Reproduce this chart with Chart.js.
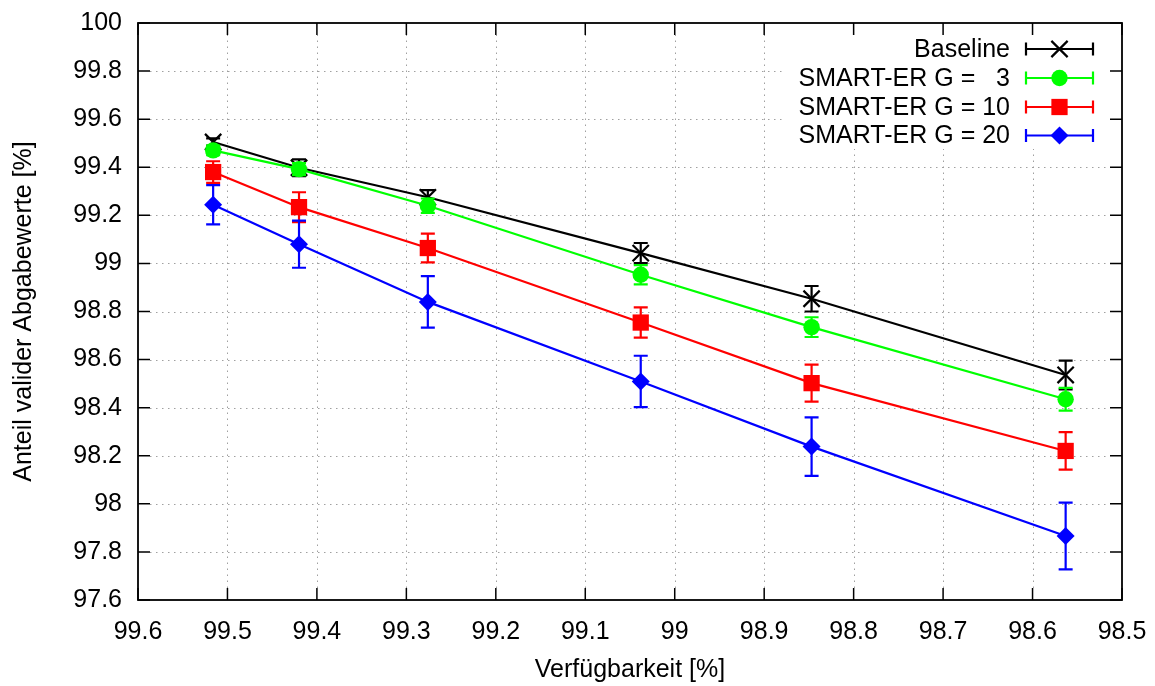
<!DOCTYPE html>
<html>
<head>
<meta charset="utf-8">
<script src="https://cdn.jsdelivr.net/npm/chart.js@4/dist/chart.umd.min.js"></script>
<style>
  html, body { margin: 0; padding: 0; background: #fff; }
  #wrap { width: 1155px; height: 686px; }
</style>
</head>
<body>
<div id="wrap"><canvas id="c" width="1155" height="686"></canvas></div>
<script>
// ---- data ----
const availability = [99.516, 99.420, 99.276, 99.038, 98.847, 98.563];
const seriesLabels = ['Baseline', 'SMART-ER G =   3', 'SMART-ER G = 10', 'SMART-ER G = 20'];
const baselineValues = [99.505, 99.398, 99.275, 99.043, 98.853, 98.536];
const baselineErrors = [0.015, 0.035, 0.030, 0.042, 0.053, 0.060];
const g3Values = [99.470, 99.392, 99.240, 98.953, 98.735, 98.435];
const g3Errors = [0.020, 0.025, 0.030, 0.040, 0.041, 0.047];
const g10Values = [99.380, 99.234, 99.064, 98.754, 98.502, 98.220];
const g10Errors = [0.045, 0.062, 0.060, 0.063, 0.077, 0.078];
const g20Values = [99.244, 99.080, 98.840, 98.509, 98.238, 97.866];
const g20Errors = [0.082, 0.098, 0.107, 0.107, 0.122, 0.139];
const xTicks = [99.6, 99.5, 99.4, 99.3, 99.2, 99.1, 99.0, 98.9, 98.8, 98.7, 98.6, 98.5];
const yTicks = [97.6, 97.8, 98.0, 98.2, 98.4, 98.6, 98.8, 99.0, 99.2, 99.4, 99.6, 99.8, 100];
const xTitle = 'Verfügbarkeit [%]';
const yTitle = 'Anteil valider Abgabewerte [%]';

const FONT = '"Liberation Sans", Arial, Helvetica, sans-serif';
const FSIZE = 25;

const styles = [
  { color: '#000000', pointStyle: 'crossRot', radius: 11.5, fill: false },
  { color: '#00ff00', pointStyle: 'circle', radius: 8.2, fill: true },
  { color: '#ff0000', pointStyle: 'rect', radius: 11.5, fill: true },
  { color: '#0000ff', pointStyle: 'rectRot', radius: 9, fill: true }
];
const valueSets = [baselineValues, g3Values, g10Values, g20Values];
const errorSets = [baselineErrors, g3Errors, g10Errors, g20Errors];

const datasets = valueSets.map((vals, i) => ({
  label: seriesLabels[i],
  data: availability.map((x, j) => ({ x: x, y: vals[j] })),
  errors: errorSets[i],
  borderColor: styles[i].color,
  backgroundColor: styles[i].color,
  borderWidth: 2.2,
  pointStyle: styles[i].pointStyle,
  pointRadius: styles[i].radius,
  pointHoverRadius: styles[i].radius,
  pointBorderWidth: styles[i].fill ? 0 : 2.2,
  pointBorderColor: styles[i].color,
  pointBackgroundColor: styles[i].color,
  tension: 0,
  fill: false,
  order: 3 - i
}));

const CAP = 7;

const errorBarPlugin = {
  id: 'errorBars',
  beforeDatasetDraw(chart, args) {
    const ds = chart.data.datasets[args.index];
    const meta = args.meta;
    const ys = chart.scales.y;
    const ctx = chart.ctx;
    ctx.save();
    ctx.strokeStyle = ds.borderColor;
    ctx.lineWidth = 2.2;
    meta.data.forEach((pt, j) => {
      const v = ds.data[j].y, e = ds.errors[j];
      const x = pt.x;
      const yTop = ys.getPixelForValue(v + e);
      const yBot = ys.getPixelForValue(v - e);
      ctx.beginPath();
      ctx.moveTo(x, yTop); ctx.lineTo(x, yBot);
      ctx.moveTo(x - CAP, yTop); ctx.lineTo(x + CAP, yTop);
      ctx.moveTo(x - CAP, yBot); ctx.lineTo(x + CAP, yBot);
      ctx.stroke();
    });
    ctx.restore();
  }
};

const LEG = { boxLeft: 782, boxBottom: 148, textRight: 1010, lineL: 1026, lineR: 1093, rows: [49, 78, 107, 135.5] };

const framePlugin = {
  id: 'frame',
  beforeDatasetsDraw(chart) {
    const { ctx, chartArea: a } = chart;
    const xs = chart.scales.x, ys = chart.scales.y;
    ctx.save();
    // dotted grid
    ctx.strokeStyle = '#a0a0a0';
    ctx.lineWidth = 1;
    ctx.setLineDash([1.5, 4.5]);
    xTicks.forEach(v => {
      const px = Math.round(xs.getPixelForValue(v)) + 0.5;
      if (px < a.left + 2 || px > a.right - 2) return;
      ctx.beginPath(); ctx.moveTo(px, a.bottom - 12); ctx.lineTo(px, a.top + 12); ctx.stroke();
    });
    yTicks.forEach(v => {
      const py = Math.round(ys.getPixelForValue(v)) + 0.5;
      if (py < a.top + 2 || py > a.bottom - 2) return;
      ctx.beginPath(); ctx.moveTo(a.left + 12, py); ctx.lineTo(a.right - 12, py); ctx.stroke();
    });
    ctx.setLineDash([]);
    // opaque key box
    ctx.fillStyle = '#ffffff';
    ctx.fillRect(LEG.boxLeft, a.top + 1, a.right - LEG.boxLeft - 1, LEG.boxBottom - a.top);
    // inward ticks, mirrored
    ctx.strokeStyle = '#000';
    ctx.lineWidth = 1.5;
    xTicks.forEach(v => {
      const px = xs.getPixelForValue(v);
      ctx.beginPath();
      ctx.moveTo(px, a.bottom); ctx.lineTo(px, a.bottom - 12);
      ctx.moveTo(px, a.top); ctx.lineTo(px, a.top + 12);
      ctx.stroke();
    });
    yTicks.forEach(v => {
      const py = ys.getPixelForValue(v);
      ctx.beginPath();
      ctx.moveTo(a.left, py); ctx.lineTo(a.left + 12, py);
      ctx.moveTo(a.right, py); ctx.lineTo(a.right - 12, py);
      ctx.stroke();
    });
    ctx.lineWidth = 1.8;
    ctx.strokeRect(a.left, a.top, a.right - a.left, a.bottom - a.top);
    ctx.restore();
  },
  afterDraw(chart) {
    const ctx = chart.ctx;
    ctx.save();
    ctx.font = FSIZE + 'px ' + FONT;
    ctx.textAlign = 'right';
    ctx.textBaseline = 'middle';
    chart.data.datasets.forEach((ds, i) => {
      const y = LEG.rows[i];
      ctx.fillStyle = '#000';
      ctx.fillText(ds.label, LEG.textRight, y + 1);
      ctx.strokeStyle = ds.borderColor;
      ctx.lineWidth = 2.2;
      ctx.beginPath();
      ctx.moveTo(LEG.lineL, y); ctx.lineTo(LEG.lineR, y);
      ctx.moveTo(LEG.lineL, y - 6.5); ctx.lineTo(LEG.lineL, y + 6.5);
      ctx.moveTo(LEG.lineR, y - 6.5); ctx.lineTo(LEG.lineR, y + 6.5);
      ctx.stroke();
      ctx.fillStyle = ds.backgroundColor;
      ctx.lineWidth = ds.pointBorderWidth || 2.2;
      const mx = (LEG.lineL + LEG.lineR) / 2;
      Chart.helpers.drawPoint(ctx, { pointStyle: ds.pointStyle, radius: ds.pointRadius, rotation: 0, borderWidth: ds.pointBorderWidth }, mx, y);
    });
    ctx.restore();
  }
};

new Chart(document.getElementById('c'), {
  type: 'line',
  data: { datasets: datasets },
  options: {
    responsive: false,
    animation: false,
    devicePixelRatio: 1,
    layout: { padding: { top: 23, right: 33, left: 0, bottom: 0 } },
    plugins: { legend: { display: false }, tooltip: { enabled: false } },
    events: [],
    scales: {
      x: {
        type: 'linear',
        reverse: true,
        min: 98.5, max: 99.6,
        afterBuildTicks: s => { s.ticks = xTicks.map(v => ({ value: v })); },
        afterFit: s => { s.height = 86; s.paddingLeft = 0; s.paddingRight = 0; },
        grid: { display: false, drawTicks: false },
        border: { display: false },
        ticks: { color: '#000', font: { family: FONT, size: FSIZE }, padding: 17, maxRotation: 0, autoSkip: false, callback: v => String(v) },
        title: { display: true, text: xTitle, color: '#000', font: { family: FONT, size: FSIZE }, padding: { bottom: 1 } }
      },
      y: {
        type: 'linear',
        min: 97.6, max: 100,
        afterBuildTicks: s => { s.ticks = yTicks.map(v => ({ value: v })); },
        afterFit: s => { s.width = 138; s.paddingTop = 0; s.paddingBottom = 0; },
        grid: { display: false, drawTicks: false },
        border: { display: false },
        ticks: { color: '#000', font: { family: FONT, size: FSIZE }, padding: 16, autoSkip: false, callback: v => String(v) },
        title: { display: true, text: yTitle, color: '#000', font: { family: FONT, size: FSIZE }, padding: { top: 9 } }
      }
    }
  },
  plugins: [errorBarPlugin, framePlugin]
});
</script>
</body>
</html>
